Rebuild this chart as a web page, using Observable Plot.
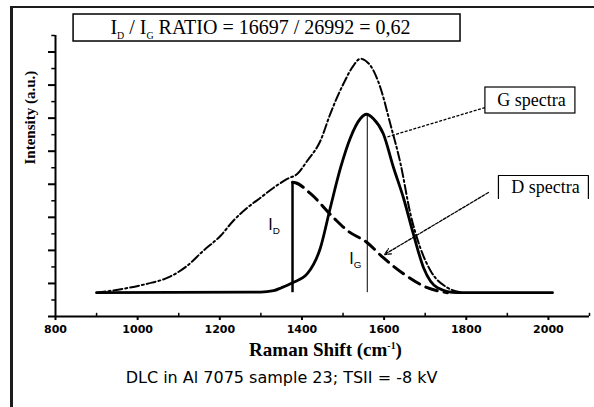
<!DOCTYPE html>
<html><head><meta charset="utf-8">
<script src="https://cdn.jsdelivr.net/npm/d3@7"></script>
<script src="https://cdn.jsdelivr.net/npm/@observablehq/plot@0.6"></script>
<style>
body{margin:0;background:#fff}
#wrap{position:relative;width:594px;height:407px;overflow:hidden;background:#fff}
.fl{position:absolute;background:#1c1c1c}
</style>
</head><body><div id="wrap"></div>
<script>
// ---- data ----
const shiftG = [900, 1275, 1299, 1331, 1350, 1377, 1413, 1445, 1469, 1494, 1518, 1542, 1557, 1574, 1598, 1623, 1647, 1671, 1696, 1730, 1778, 2010];
const intensityG = [3600, 3680, 3680, 3900, 4360, 5110, 6470, 10400, 16450, 22500, 27040, 29910, 30590, 29910, 27640, 22500, 17960, 12520, 7380, 4360, 3600, 3600];

const shiftD = [1377, 1384, 1421, 1477, 1511, 1559, 1598, 1647, 1705, 1754];
const intensityD = [20290, 20230, 18570, 14940, 12970, 11160, 8890, 6470, 4360, 3600];

const shiftSum = [900, 966, 1024, 1073, 1121, 1160, 1202, 1233, 1267, 1299, 1331, 1365, 1389, 1413, 1445, 1469, 1501, 1525, 1542, 1567, 1591, 1615, 1640, 1664, 1688, 1713, 1754, 1793];
const intensitySum = [3600, 4200, 4960, 5870, 7680, 9950, 12220, 14490, 16450, 17960, 19480, 20840, 21590, 23560, 26580, 30660, 35200, 37920, 38980, 37920, 34600, 29150, 23110, 15540, 10400, 6930, 4360, 3600];

const baseline = 3600;
const peakShiftD = 1377, peakShiftG = 1559;
const intensityPeakD = 16697, intensityPeakG = 26992;

const xMajor = [800, 1000, 1200, 1400, 1600, 1800, 2000];
const xMinor = [900, 1100, 1300, 1500, 1700, 1900, 2100];
const yMajor = [0, 5000, 10000, 15000, 20000, 25000, 30000, 35000, 40000];
const yMinor = [2500, 7500, 12500, 17500, 22500, 27500, 32500, 37500, 42500];

const ratioText = "I_{D} / I_{G} RATIO = 16697 / 26992 = 0,62";
const gLabel = "G spectra";
const dLabel = "D spectra";
const idLabel = "I_{D}";
const igLabel = "I_{G}";
const xTitle = "Raman Shift (cm^{-1})";
const yTitle = "Intensity (a.u.)";
const caption = "DLC in Al 7075 sample 23; TSII = -8 kV";

(function () {
const G = shiftG.map((s, i) => ({shift: s, intensity: intensityG[i]}));
const D = shiftD.map((s, i) => ({shift: s, intensity: intensityD[i]}));
const S = shiftSum.map((s, i) => ({shift: s, intensity: intensitySum[i]}));

const serif = "Liberation Serif, Times New Roman, serif";
const sans = "DejaVu Sans, Verdana, sans-serif";
const arial = "Liberation Sans, Arial, sans-serif";

const chart = Plot.plot({
  width: 594, height: 407,
  marginLeft: 55, marginRight: 5, marginTop: 35, marginBottom: 91,
  x: {domain: [800, 2100], axis: null},
  y: {domain: [0, 42500], axis: null},
  style: {background: "white", fontFamily: sans, overflow: "visible", color: "black"},
  marks: [
    Plot.ruleY(yMajor, {x1: 783, x2: 800, strokeWidth: 2}),
    Plot.ruleY(yMinor, {x1: 791, x2: 800, strokeWidth: 1.5}),
    Plot.ruleX(xMinor, {y1: 0, y2: 480, strokeWidth: 1.5}),
    Plot.axisX({ticks: xMajor, tickSize: 4, tickPadding: 5, strokeWidth: 2, fontSize: 11, fontWeight: "bold", label: null, tickFormat: d => String(d)}),
    Plot.ruleX([800], {strokeWidth: 2}),
    Plot.ruleY([0], {strokeWidth: 2}),
    Plot.line(S, {x: "shift", y: "intensity", curve: "monotone-x", strokeWidth: 2, strokeDasharray: "9,3,2,3"}),
    Plot.line(D, {x: "shift", y: "intensity", curve: "monotone-x", strokeWidth: 3, strokeDasharray: "12,7"}),
    Plot.line(G, {x: "shift", y: "intensity", curve: "monotone-x", strokeWidth: 2.8}),
    Plot.ruleX([{x: peakShiftD, y1: baseline, y2: baseline + intensityPeakD}], {x: "x", y1: "y1", y2: "y2", strokeWidth: 2.5}),
    Plot.ruleX([{x: peakShiftG, y1: baseline, y2: baseline + intensityPeakG}], {x: "x", y1: "y1", y2: "y2", strokeWidth: 1}),
    Plot.text([idLabel], {x: 1318, y: 13914, text: d => d, textAnchor: "start", fontFamily: arial, fontSize: 16}),
    Plot.text([igLabel], {x: 1515, y: 8772, text: d => d, textAnchor: "start", fontFamily: arial, fontSize: 16}),
    Plot.rect([0], {x1: 844, x2: 1786, y1: 41591, y2: 45675, fill: "white", stroke: "black", strokeWidth: 1.5}),
    Plot.text([ratioText], {x: 1299, y: 43633, text: d => d, fontFamily: serif, fontSize: 20}),
    Plot.link([0], {x1: 1846, y1: 31609, x2: 1603, y2: 27072, strokeWidth: 1.3, strokeDasharray: "3,1.5"}),
    Plot.rect([0], {x1: 1846.6, x2: 2065.7, y1: 30702, y2: 34634, fill: "white", stroke: "black", strokeWidth: 1.2}),
    Plot.text([gLabel], {x: 1958.6, y: 32668, text: d => d, fontFamily: serif, fontSize: 18}),
    Plot.arrow([0], {x1: 1854, y1: 18754, x2: 1601, y2: 9377, strokeWidth: 1.3, headLength: 8, headAngle: 50, strokeDasharray: "3,1.5"}),
    Plot.line([[1878.3, 17846], [1878.3, 21325], [2097.3, 21325], [2097.3, 17846]], {strokeWidth: 1.2}),
    Plot.text([dLabel], {x: 1992.7, y: 19510, text: d => d, fontFamily: serif, fontSize: 18}),
    Plot.text([xTitle], {frameAnchor: "bottom", dy: 39, dx: 3, text: d => d, fontFamily: serif, fontWeight: "bold", fontSize: 19}),
    Plot.text([yTitle], {frameAnchor: "left", dx: -25, dy: -11.5, rotate: -90, text: d => d, fontFamily: serif, fontWeight: "bold", fontSize: 15}),
    Plot.text([caption], {frameAnchor: "bottom", dy: 66, dx: -41, text: d => d, fontFamily: sans, fontSize: 16})
  ]
});

chart.querySelectorAll("text").forEach(t => {
  const s = t.textContent;
  if (!/[_^]\{/.test(s)) return;
  const fs = parseFloat(t.getAttribute("font-size")) || 16;
  t.textContent = "";
  const re = /([_^])\{([^}]*)\}/g;
  let last = 0, m, shift = 0;
  const add = (str, kind) => {
    const ts = document.createElementNS("http://www.w3.org/2000/svg", "tspan");
    ts.textContent = str;
    if (kind) {
      ts.setAttribute("font-size", (fs * 0.62).toFixed(1));
      ts.setAttribute("dy", ((kind === "_" ? 0.28 : -0.42) * fs).toFixed(1));
    }
    t.appendChild(ts);
    return ts;
  };
  while ((m = re.exec(s))) {
    if (m.index > last) { const ts = add(s.slice(last, m.index), null); if (shift) ts.setAttribute("dy", (-shift).toFixed(1)); shift = 0; }
    add(m[2], m[1]);
    shift = (m[1] === "_" ? 0.28 : -0.42) * fs;
    last = re.lastIndex;
  }
  if (last < s.length) { const ts = add(s.slice(last), null); if (shift) ts.setAttribute("dy", (-shift).toFixed(1)); }
});

const wrap = document.getElementById("wrap");
wrap.appendChild(chart);
const leftLine = document.createElement("div"); leftLine.className = "fl";
leftLine.style.cssText = "left:10px;top:6px;width:2.5px;height:401px";
const topLine = document.createElement("div"); topLine.className = "fl";
topLine.style.cssText = "left:10px;top:6px;width:584px;height:2px";
wrap.appendChild(leftLine); wrap.appendChild(topLine);
})();
</script></body></html>
